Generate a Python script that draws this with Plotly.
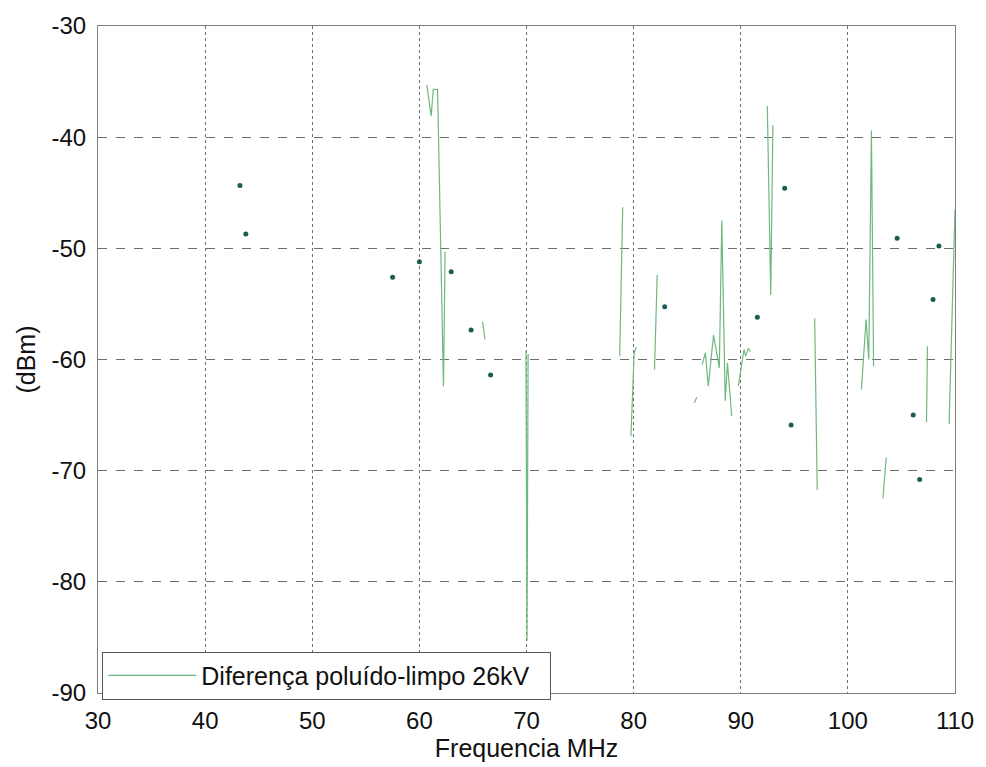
import plotly.graph_objects as go

# ---- data (frequency MHz, level dBm); None separates line segments ----
line_x = [60.7, 61.1, 61.3, 61.7, 62.25, 62.4, None,
          65.9, 66.13, None,
          69.95, 70.05, 70.15, None,
          78.7, 78.98, None,
          79.75, 80.05, 80.25, None,
          81.95, 82.2, None,
          85.67, 85.9, None,
          86.4, 86.7, 86.97, 87.46, 88.0, 88.23, 88.55, 88.76, 89.16, None,
          89.78, 90.0, 90.3, 90.46, 90.7, 90.9, None,
          92.48, 92.8, 93.0, None,
          96.9, 97.14, None,
          101.26, 101.7, 101.95, 102.2, 102.4, None,
          103.27, 103.58, None,
          107.34, 107.43, None,
          109.45, 110.0]
line_y = [-35.3, -38.1, -35.7, -35.7, -62.4, -50.3, None,
          -56.6, -58.2, None,
          -59.2, -85.3, -59.5, None,
          -59.7, -46.3, None,
          -66.9, -59.4, -58.9, None,
          -60.9, -52.4, None,
          -63.9, -63.4, None,
          -60.45, -59.4, -62.4, -57.8, -60.75, -47.5, -63.7, -60.3, -65.1, None,
          -62.4, -60.9, -59.1, -59.7, -59.0, -59.3, None,
          -37.2, -54.2, -38.9, None,
          -56.3, -71.75, None,
          -62.7, -56.4, -60.0, -39.4, -60.6, None,
          -72.5, -68.8, None,
          -65.65, -58.8, None,
          -65.8, -46.5]

# isolated single-sample points
dot_x = [43.25, 43.8, 57.5, 60.0, 62.97, 64.83, 66.65, 82.9, 91.55, 94.1,
         94.7, 104.6, 108.5, 107.95, 106.1, 106.7]
dot_y = [-44.35, -48.7, -52.6, -51.2, -52.1, -57.35, -61.4, -55.25, -56.2, -44.6,
         -65.9, -49.1, -49.8, -54.6, -65.0, -70.8]

x_ticks = [30, 40, 50, 60, 70, 80, 90, 100, 110]
x_ticklabels = ["30", "40", "50", "60", "70", "80", "90", "100", "110"]
y_ticks = [-90, -80, -70, -60, -50, -40, -30]
y_ticklabels = ["-90", "-80", "-70", "-60", "-50", "-40", "-30"]

legend_label = "Diferença poluído-limpo 26kV"
x_title = "Frequencia MHz"
y_title = "(dBm)"

FONT = "Liberation Sans, Arial, sans-serif"

fig = go.Figure()
fig.add_trace(go.Scatter(
    x=line_x, y=line_y, mode="lines", name=legend_label,
    line=dict(color="rgb(110,185,125)", width=1.2),
    connectgaps=False,
))
fig.add_trace(go.Scatter(
    x=dot_x, y=dot_y, mode="markers", showlegend=False,
    marker=dict(color="rgb(25,95,80)", size=5),
))

axis_common = dict(
    showline=True, linecolor="#808080", linewidth=1, mirror=True,
    showgrid=True, gridcolor="#6e6e6e", gridwidth=1,
    zeroline=False, ticks="",
    tickfont=dict(family=FONT, size=24, color="#111"),
)

fig.update_xaxes(
    range=[30, 110], tickvals=x_ticks, ticktext=x_ticklabels,
    griddash="dot", ticklabelstandoff=6,
    title=dict(text=x_title, font=dict(family=FONT, size=25, color="#111"), standoff=4),
    **axis_common,
)
fig.update_yaxes(
    range=[-90, -30], tickvals=y_ticks, ticktext=y_ticklabels,
    griddash="dash", ticklabelstandoff=6,
    title=dict(text=y_title, font=dict(family=FONT, size=25, color="#111"), standoff=8),
    **axis_common,
)

fig.update_layout(
    width=986, height=767,
    margin=dict(l=98, r=28, t=24, b=71),
    paper_bgcolor="white", plot_bgcolor="white",
    showlegend=True,
    legend=dict(
        x=0.005, y=-0.01, xanchor="left", yanchor="bottom",
        orientation="h", entrywidth=344, entrywidthmode="pixels",
        bgcolor="white", bordercolor="#555", borderwidth=1,
        font=dict(family=FONT, size=25, color="#111"),
        itemwidth=88,
    ),
)

fig.write_html("out.html")
